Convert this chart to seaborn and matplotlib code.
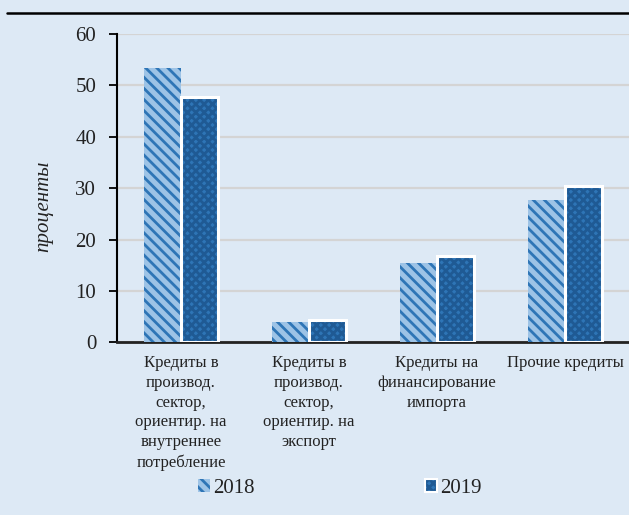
import matplotlib
matplotlib.use("Agg")
import matplotlib.pyplot as plt
from matplotlib.patches import Rectangle
from matplotlib.lines import Line2D
from matplotlib.legend_handler import HandlerTuple
import seaborn as sns
import pandas as pd

categories = [
    "Кредиты в\nпроизвод.\nсектор,\nориентир. на\nвнутреннее\nпотребление",
    "Кредиты в\nпроизвод.\nсектор,\nориентир. на\nэкспорт",
    "Кредиты на\nфинансирование\nимпорта",
    "Прочие кредиты",
]
years = ["2018", "2019"]
values_2018 = [53.3, 4.0, 15.5, 27.7]
values_2019 = [47.8, 4.4, 16.8, 30.4]
y_ticks = [0, 10, 20, 30, 40, 50, 60]

df = pd.DataFrame({
    "category": categories * 2,
    "year": [years[0]] * len(categories) + [years[1]] * len(categories),
    "value": values_2018 + values_2019,
})

bg = "#dde9f5"
sns.set_theme(style="white")
plt.rcParams["font.family"] = ["Liberation Serif", "DejaVu Serif"]
plt.rcParams["hatch.linewidth"] = 2.0

fig = plt.figure(figsize=(6.29, 5.15), dpi=100, facecolor=bg)
ax = fig.add_axes([0.186, 0.3353, 0.814, 0.5987])
ax.set_facecolor(bg)

sns.barplot(data=df, x="category", y="value", hue="year", width=0.58,
            palette=["#9dc3e6", "#2e75b6"], dodge=True, gap=0,
            legend=False, ax=ax, zorder=3)

styles = [
    dict(face="#9dc3e6", hatch="\\\\\\", hcol="#2e75b6"),
    dict(face="#2e75b6", hatch="xxxx", hcol="#1f5a94"),
]
for cont, st in zip(ax.containers, styles):
    for bar in cont:
        bar.set_facecolor(st["face"])
        bar.set_edgecolor(st["hcol"])
        bar.set_hatch(st["hatch"])
        bar.set_linewidth(0)
for bar in ax.containers[1]:
    ax.add_patch(Rectangle(bar.get_xy(), bar.get_width(), bar.get_height(),
                           fill=False, edgecolor="white", linewidth=2.2,
                           zorder=4))

ax.set_xlim(-0.5, 3.5)
ax.set_ylim(0, 60)
ax.set_yticks(y_ticks)
ax.yaxis.grid(True, color="#d4d4d4", linewidth=1.6, zorder=0)
ax.set_axisbelow(True)
for s in ["top", "right"]:
    ax.spines[s].set_visible(False)
ax.spines["left"].set_color("black")
ax.spines["left"].set_linewidth(1.5)
ax.spines["bottom"].set_color("#222222")
ax.spines["bottom"].set_linewidth(2)
ax.tick_params(axis="y", length=6, width=1.3, color="black", pad=9,
               labelsize=15, left=True, labelcolor="#222222")
ax.tick_params(axis="x", length=0, pad=9, labelsize=12, labelcolor="#222222")
for lbl in ax.get_xticklabels():
    lbl.set_linespacing(1.32)
ax.set_xlabel("")
ax.set_ylabel("проценты", fontsize=15, fontstyle="italic", color="#222222")
ax.yaxis.set_label_coords(-0.125, 0.44)

h2018 = Rectangle((0, 0), 1, 1, facecolor=styles[0]["face"], hatch="\\\\\\",
                  edgecolor=styles[0]["hcol"], linewidth=0)
h2019_fill = Rectangle((0, 0), 1, 1, facecolor=styles[1]["face"], hatch="xxxx",
                       edgecolor=styles[1]["hcol"], linewidth=0)
h2019_edge = Rectangle((0, 0), 1, 1, fill=False, edgecolor="white",
                       linewidth=1.5)
fig.legend([h2018, (h2019_fill, h2019_edge)], years, loc="center",
           bbox_to_anchor=(0.54, 0.052), ncol=2, frameon=False, fontsize=15,
           handlelength=0.55, handleheight=0.55, handletextpad=0.15,
           columnspacing=8.2, labelcolor="#222222",
           handler_map={tuple: HandlerTuple(ndivide=1, pad=0)})

fig.add_artist(Line2D([0.011, 1.0], [0.975, 0.975], color="black",
                      linewidth=1.8, transform=fig.transFigure))

fig.savefig("out.png", dpi=100, facecolor=bg)
